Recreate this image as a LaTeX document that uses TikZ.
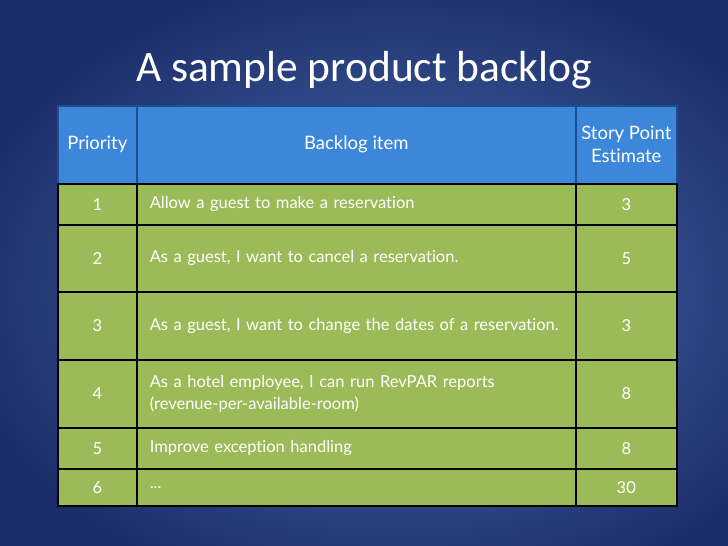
\documentclass[tikz,border=0pt]{standalone}
\usepackage{fontspec}
\setmainfont{Carlito}
\newfontfamily\bodyfont[Ligatures=NoCommon]{Lato}
\usetikzlibrary{positioning}
\definecolor{bgin}{HTML}{4E70B2}
\definecolor{bgout}{HTML}{1A2C68}
\definecolor{hdrblue}{HTML}{3C87DA}
\definecolor{hdrline}{HTML}{1A4F96}
\definecolor{rowgreen}{HTML}{9BBB59}

\begin{document}
\begin{tikzpicture}[x=1pt,y=-1pt,
 cellbase/.style={anchor=north west,inner sep=0pt,text=white,line width=1.6pt,
   font=\bodyfont\fontsize{16.5}{22}\selectfont},
 hdr/.style={cellbase,draw=hdrline,fill=hdrblue,minimum height=78pt,align=center,
   font=\bodyfont\fontsize{18.5}{23}\selectfont},
 numcell/.style={cellbase,draw=black,fill=rowgreen,minimum width=79pt},
 itemcell/.style={cellbase,draw=black,fill=rowgreen,text width=413pt,inner xsep=13pt,align=left},
 ptscell/.style={cellbase,draw=black,fill=rowgreen,minimum width=101pt}]
 % background
 \useasboundingbox (0,0) rectangle (728,546);
 \shade[inner color=bgin,outer color=bgout] (-60,-40) rectangle (860,620);

 % title
 \node[text=white,font=\fontsize{43.5}{50}\selectfont] (title) at (364,70) {A sample product backlog};

 % header row
 \node[hdr,minimum width=79pt] (hprio) at (57,105) {Priority};
 \node[hdr,minimum width=439pt] (hitem) at (136,105) {Backlog item};
 \node[hdr,minimum width=101pt] (hpts) at (575,105) {Story Point\\Estimate};

 % backlog rows
 \foreach \n/\ry/\rh/\txt/\pts in {
   1/183/41/{Allow a guest to make a reservation}/3,
   2/224/67/{As a guest, I want to cancel a reservation.}/5,
   3/291/68/{As a guest, I want to change the dates of a reservation.}/3,
   4/359/68/{As a hotel employee, I can run RevPAR reports\\(revenue-per-available-room)}/8,
   5/427/41/{Improve exception handling}/8,
   6/468/37/{...}/30}
 {
   \node[numcell,minimum height=\rh pt] (prio\n) at (57,\ry) {\n};
   \node[itemcell,minimum height=\rh pt] (item\n) at (136,\ry) {\txt};
   \node[ptscell,minimum height=\rh pt] (pts\n) at (575,\ry) {\pts};
 }
\end{tikzpicture}
\end{document}
